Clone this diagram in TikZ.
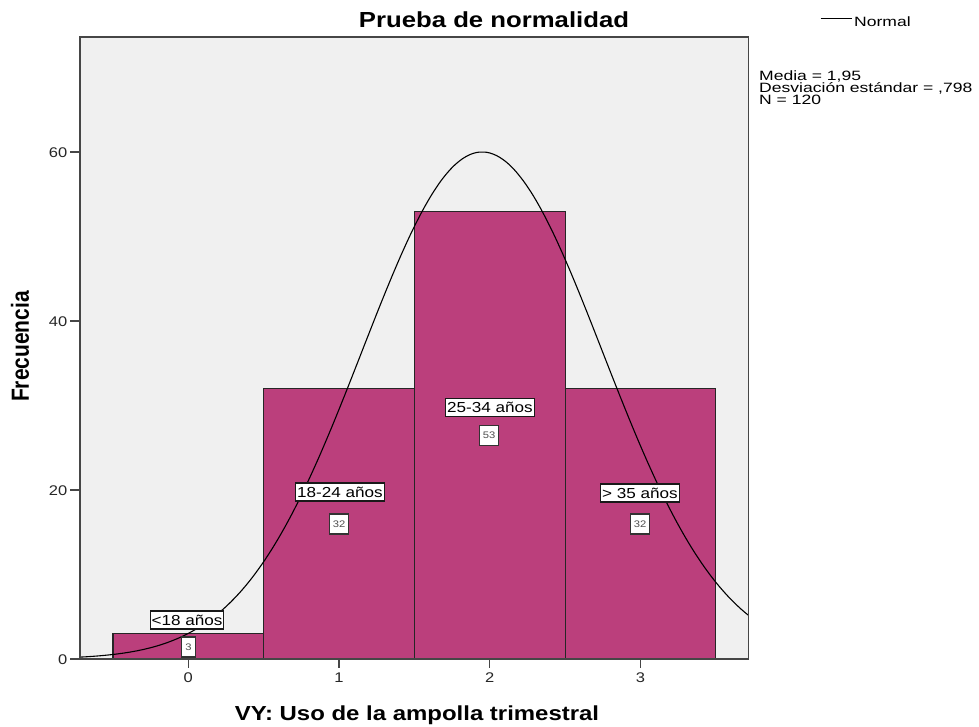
\documentclass[tikz,border=0pt]{standalone}
\usepackage{fontspec}
\setmainfont{Liberation Sans}[FakeStretch=1.18]
\newfontfamily\plainsans{Liberation Sans}
\newfontfamily\statfont{Liberation Sans}[FakeStretch=1.3]
\definecolor{barfill}{RGB}{187,63,124}
\definecolor{plotbg}{RGB}{240,240,240}
\definecolor{framec}{RGB}{70,70,70}
\definecolor{cntc}{RGB}{80,80,80}
\begin{document}
\begin{tikzpicture}[x=1pt,y=-1pt,
  bar/.style={draw=black!85, line width=1.1pt, fill=barfill},
  curve/.style={draw=black, line width=1.1pt},
  framestyle/.style={draw=framec, line width=1.5pt},
  tick/.style={draw=framec, line width=1.5pt},
  ticklab/.style={inner sep=0pt, font=\fontsize{14pt}{16pt}\selectfont, text=black!85},
  lbl/.style={draw=black!90, fill=white, line width=1.1pt, inner xsep=1.5pt, inner ysep=0pt,
    minimum height=18pt, font=\fontsize{14.5pt}{16pt}\selectfont},
  cnt/.style={draw=black!80, fill=white, line width=1.1pt, inner xsep=3.5pt, inner ysep=0pt,
    minimum height=20pt, font=\fontsize{9.5pt}{10pt}\selectfont, text=cntc},
  stat/.style={inner sep=0pt, anchor=base west, font=\statfont\fontsize{13.5pt}{14pt}\selectfont},
  axlab/.style={inner sep=0pt, font=\bfseries\fontsize{20.3pt}{22pt}\selectfont}
]
\useasboundingbox (0,0) rectangle (979,726);
% plot area
\coordinate (pNW) at (80,37);
\coordinate (pSE) at (748.3,659);
\fill[plotbg] (pNW) rectangle (pSE);
\begin{scope}[shift={(188.3,659)}, x=150.7pt, y=8.45pt]
  \draw[bar] (-0.5,0) rectangle (0.5,3);
  \draw[bar] (0.5,0) rectangle (1.5,32);
  \draw[bar] (1.5,0) rectangle (2.5,53);
  \draw[bar] (2.5,0) rectangle (3.5,32);
  \draw[curve] plot[domain=-0.7187:3.7159, samples=200, smooth]
     (\x,{59.99*exp(-((\x-1.95)*(\x-1.95))/1.273608)});
\end{scope}
\draw[framestyle] (pNW) rectangle (pSE);
% y ticks
\foreach \yy/\lab/\nm in {659/0/ya, 490/20/yb, 321/40/yc, 152/60/yd}{
  \coordinate (\nm t) at (70,\yy);
  \coordinate (\nm b) at (80,\yy);
  \draw[tick] (\nm t) -- (\nm b);
  \node[ticklab, anchor=east] (\nm l) at (67.5,\yy+0.5) {\lab};
}
% x ticks
\foreach \xx/\lab/\nm in {188.3/0/xa, 339/1/xb, 489.7/2/xc, 640.4/3/xd}{
  \coordinate (\nm t) at (\xx,659);
  \coordinate (\nm b) at (\xx,668);
  \draw[tick] (\nm t) -- (\nm b);
  \node[ticklab, anchor=north] (\nm l) at (\xx,672.5) {\lab};
}
% bar labels
\node[lbl] (lab0) at (187,620) {<18 años};
\node[cnt] (cnt0) at (188.5,647) {3};
\node[lbl] (lab1) at (340,492) {18-24 años};
\node[cnt] (cnt1) at (339,524) {32};
\node[lbl] (lab2) at (490,407.5) {25-34 años};
\node[cnt] (cnt2) at (489,435.5) {53};
\node[lbl] (lab3) at (640,493) {> 35 años};
\node[cnt] (cnt3) at (640,524) {32};
% titles
\node[inner sep=0pt, anchor=base, font=\bfseries\fontsize{21.8pt}{24pt}\selectfont] (title) at (494,27.3) {Prueba de normalidad};
\node[axlab, anchor=base] (xlabel) at (417,720.7) {VY: Uso de la ampolla trimestral};
\node[inner sep=0pt, rotate=90, font=\plainsans\bfseries\fontsize{21pt}{22pt}\selectfont] (ylabel) at (20,346.5) {\scalebox{1}[1.18]{Frecuencia}};
% legend
\coordinate (legA) at (820.7,18.3);
\coordinate (legB) at (851.7,18.3);
\draw[black, line width=1pt] (legA) -- (legB);
\node[stat] (legtext) at (854,26) {Normal};
% stats
\node[stat] (stat1) at (759,80) {Media = 1,95};
\node[stat] (stat2) at (759,92) {Desviación estándar = ,798};
\node[stat] (stat3) at (759,104) {N = 120};
\end{tikzpicture}
\end{document}
